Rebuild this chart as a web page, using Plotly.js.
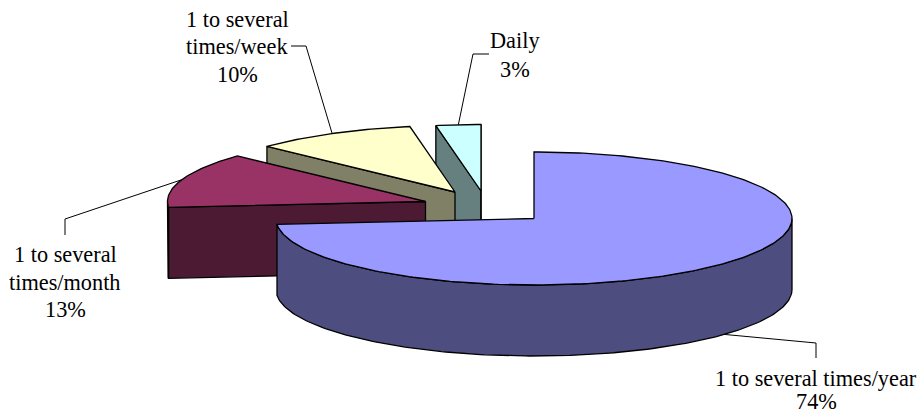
<!DOCTYPE html>
<html>
<head>
<meta charset="utf-8">
<script src="https://cdn.plot.ly/plotly-3.0.1.min.js"></script>
<style>html,body{margin:0;padding:0;background:#fff}#chart{width:918px;height:415px}</style>
</head>
<body>
<div id="chart"></div>
<script>
// Data, clockwise from 12 o'clock (estimated; labels show rounded values)
const categories = ["1 to several times/year", "1 to several times/month", "1 to several times/week", "Daily"];
const shares = [73.6, 13.4, 10.2, 2.8];
const labelLines = [
  ["1 to several times/year"],
  ["1 to several", "times/month"],
  ["1 to several", "times/week"],
  ["Daily"]
];

// Styling and placement
const topColors = ["#9999FF", "#993366", "#FFFFCC", "#CCFFFF"];
const wallColors = ["#4D4D80", "#4D1A33", "#808066", "#668080"];
const centreX = [534, 425.5, 455, 481];
const centreY = [218.5, 201.5, 192, 191];
const labelX = [816, 65, 237, 515];
const labelY = [[378, 401], [254, 282, 309], [19, 46, 74], [40, 69]];
const leaderElbows = [
  [[816, 358], [816, 343]],
  [[65, 235], [65, 219]],
  [[291, 46], [306, 46]],
  [[489, 54], [473, 54]]
];
const RX = 258, RY = 66.5, DEPTH = 71;
const OUTLINE = "#000000";

const rad = d => d * Math.PI / 180;
const rim = (i, a, drop) => [centreX[i] + RX * Math.sin(rad(a)), centreY[i] - RY * Math.cos(rad(a)) + (drop || 0)];
function arc(i, a0, a1, drop) {
  const n = Math.max(2, Math.ceil(Math.abs(a1 - a0)));
  const pts = [];
  for (let k = 0; k <= n; k++) pts.push(rim(i, a0 + (a1 - a0) * k / n, drop));
  return pts;
}
function poly(pts, fill) {
  const closed = pts.concat([pts[0]]);
  return {
    x: closed.map(p => p[0]), y: closed.map(p => p[1]),
    type: "scatter", mode: "lines", fill: "toself", fillcolor: fill,
    line: {color: OUTLINE, width: 1.3, shape: "linear"},
    hoverinfo: "skip", showlegend: false
  };
}

const total = shares.reduce((a, b) => a + b, 0);
const starts = [], ends = [];
let acc = 0;
shares.forEach(v => { starts.push(acc); acc += v / total * 360; ends.push(acc); });

const traces = [];
// Painter's order: rear slices first
for (let i = shares.length - 1; i >= 0; i--) {
  const a0 = starts[i], a1 = ends[i];
  const apex = [centreX[i], centreY[i]];
  const apexLow = [centreX[i], centreY[i] + DEPTH];
  if (i > 0) {
    traces.push(poly([apex, rim(i, a0), rim(i, a0, DEPTH), apexLow], wallColors[i]));
  }
  if (i === shares.length - 1) {
    traces.push(poly([apex, rim(i, a1), rim(i, a1, DEPTH), apexLow], wallColors[i]));
  }
  const w0 = Math.max(a0, 90), w1 = Math.min(a1, 270);
  if (w1 > w0) {
    traces.push(poly(arc(i, w0, w1).concat(arc(i, w1, w0, DEPTH)), wallColors[i]));
  }
  traces.push(poly([apex].concat(arc(i, a0, a1)), topColors[i]));
}

// Leader lines end on the mid-angle of each slice's rim
shares.forEach((v, i) => {
  const mid = (starts[i] + ends[i]) / 2;
  const end = rim(i, mid, i === 0 ? DEPTH : 0);
  const pts = leaderElbows[i].concat([end]);
  traces.push({
    x: pts.map(p => p[0]), y: pts.map(p => p[1]),
    type: "scatter", mode: "lines",
    line: {color: "#000000", width: 1},
    hoverinfo: "skip", showlegend: false
  });
});

const annotations = [];
shares.forEach((v, i) => {
  labelLines[i].concat([Math.round(v) + "%"]).forEach((t, k) => {
    annotations.push({
      x: labelX[i], y: labelY[i][k], xref: "x", yref: "y",
      text: t, showarrow: false, xanchor: "center", yanchor: "middle",
      font: {family: '"Liberation Serif", serif', size: 22.3, color: "#000000"}
    });
  });
});

const hiddenAxis = {visible: false, fixedrange: true, showgrid: false, zeroline: false};
Plotly.newPlot("chart", traces, {
  width: 918, height: 415,
  margin: {l: 0, r: 0, t: 0, b: 0},
  paper_bgcolor: "#ffffff", plot_bgcolor: "#ffffff",
  xaxis: Object.assign({range: [0, 918]}, hiddenAxis),
  yaxis: Object.assign({range: [415, 0]}, hiddenAxis),
  annotations: annotations,
  showlegend: false
}, {displayModeBar: false, staticPlot: true});
</script>
</body>
</html>
